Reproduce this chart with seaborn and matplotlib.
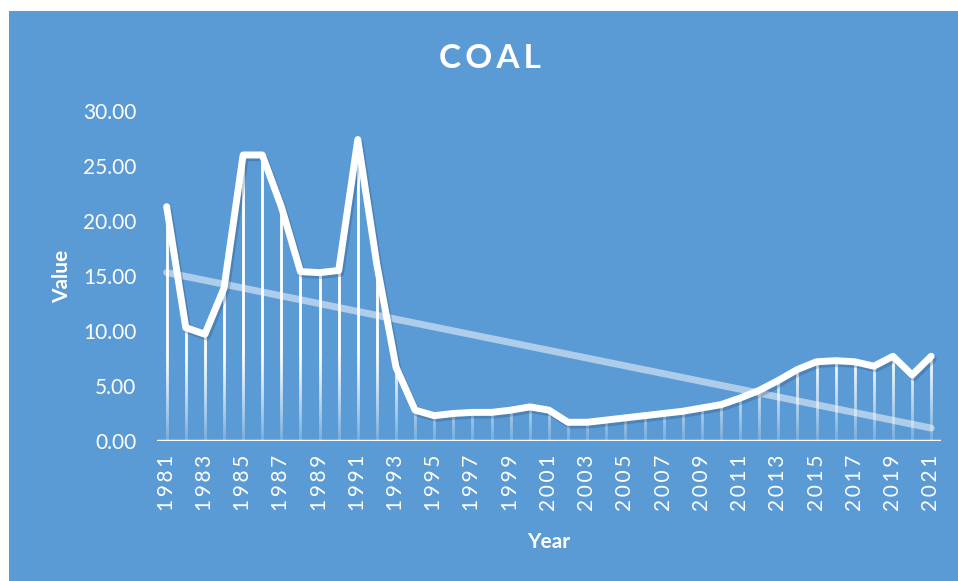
import numpy as np
import pandas as pd
import matplotlib
matplotlib.use("Agg")
import matplotlib.pyplot as plt
import matplotlib.patheffects as pe
import seaborn as sns

# coal values, one per year
years = list(range(1981, 2022))
values = [21.3, 10.3, 9.7, 13.9, 26.0, 26.0, 21.3, 15.4, 15.3, 15.5,
          27.4, 16.0, 6.7, 2.8, 2.3, 2.5, 2.6, 2.6, 2.8, 3.1,
          2.8, 1.7, 1.7, 1.9, 2.1, 2.3, 2.5, 2.7, 3.0, 3.3,
          3.9, 4.6, 5.5, 6.5, 7.2, 7.3, 7.2, 6.8, 7.7, 6.0, 7.7]
ytick_vals = [0, 5, 10, 15, 20, 25, 30]

df = pd.DataFrame({"Year": years, "Value": values})

bg = "#5B9BD5"
sns.set_theme(style="white")
plt.rcParams["font.family"] = ["Lato", "DejaVu Sans"]

fig = plt.figure(figsize=(9.58, 5.81), dpi=100, facecolor="white")
# blue chart area inside a thin white border
fig.patches.append(plt.Rectangle((9 / 958, 0), 1, 1 - 11 / 581, transform=fig.transFigure,
                                 facecolor=bg, edgecolor="none", zorder=-10))
ax = fig.add_axes([0.164, 0.241, 0.818, 0.568])
ax.set_facecolor(bg)

# drop lines from each point
ax.vlines(df["Year"], 0, df["Value"], color="white", lw=2, zorder=1)

# fade the lower part of the drop lines into the background
grad = np.zeros((100, 1, 4))
rgb = matplotlib.colors.to_rgb(bg)
grad[..., :3] = rgb
grad[:, 0, 3] = np.linspace(0.85, 0.0, 100) ** 1.2
ax.imshow(grad, extent=[1980.5, 2021.5, 0, 8], origin="lower", aspect="auto",
          zorder=2, interpolation="bilinear")

# linear trend
coef = np.polyfit(df["Year"], df["Value"], 1)
trend = np.polyval(coef, df["Year"])
ax.plot(df["Year"], trend, color="white", alpha=0.5, lw=5, solid_capstyle="round", zorder=3)

sns.lineplot(data=df, x="Year", y="Value", ax=ax, color="white", lw=5,
             solid_capstyle="round", solid_joinstyle="round", zorder=4,
             path_effects=[pe.SimpleLineShadow(offset=(1.5, -2), alpha=0.25, shadow_color="#1f3f66"),
                           pe.Normal()])

ax.axhline(0, color="white", lw=2.5, zorder=5)

ax.set_xlim(1980.5, 2021.5)
ax.set_ylim(0, 30)
ax.set_xticks(years[::2])
ax.set_xticklabels(["\u2009".join(str(y)) for y in years[::2]], rotation=90,
                   color="white", fontsize=15)
ax.set_yticks(ytick_vals)
ax.set_yticklabels([f"{v:.2f}" for v in ytick_vals], color="white", fontsize=15)
ax.tick_params(axis="x", length=0, pad=10)
ax.tick_params(axis="y", length=0, pad=15)
for s in ax.spines.values():
    s.set_visible(False)

ax.set_xlabel("Year", color="white", fontsize=15, fontweight="bold", labelpad=15)
ax.set_ylabel("Value", color="white", fontsize=15, fontweight="bold", labelpad=8)
fig.text(0.511, 0.9, "C O A L".replace(" ", "\u2009"), color="white", fontsize=24,
         fontweight="bold", ha="center", va="center")

fig.savefig("out.png", dpi=100, facecolor="white")
